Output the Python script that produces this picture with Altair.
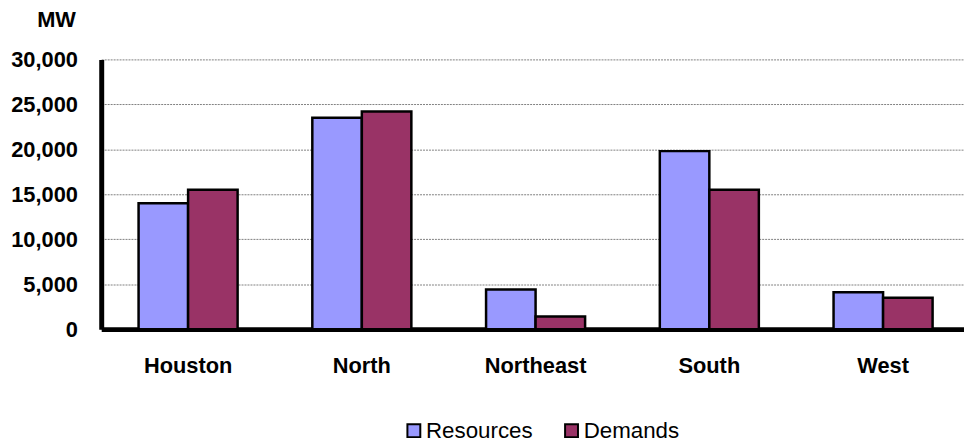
import altair as alt
import pandas as pd

regions = ["Houston", "North", "Northeast", "South", "West"]
series = ["Resources", "Demands"]
resources = [14000, 23500, 4400, 19800, 4100]
demands = [15500, 24200, 1400, 15500, 3500]
y_ticks = [0, 5000, 10000, 15000, 20000, 25000, 30000]
colors = ["#9999FF", "#993366"]

rows = []
for r, a, b in zip(regions, resources, demands):
    rows.append({"region": r, "series": "Resources", "value": a})
    rows.append({"region": r, "series": "Demands", "value": b})
df = pd.DataFrame(rows)

FONT = "Liberation Sans"

chart = alt.Chart(df).mark_bar(stroke="black", strokeWidth=2.5).encode(
    x=alt.X(
        "region:N",
        sort=regions,
        scale=alt.Scale(range=[0, 876], paddingInner=0.43, paddingOuter=0.215),
        axis=alt.Axis(
            title=None, labelAngle=0, ticks=False, domainWidth=5, domainColor="black",
            labelPadding=27, labelFont=FONT, labelFontSize=22, labelFontWeight="bold",
            labelColor="black", grid=False,
        ),
    ),
    xOffset=alt.XOffset("series:N", sort=series,
                        scale=alt.Scale(paddingInner=0, paddingOuter=0)),
    y=alt.Y(
        "value:Q",
        scale=alt.Scale(domain=[0, 30000], nice=False),
        axis=alt.Axis(
            values=y_ticks, format=",.0f", ticks=False, domainWidth=5, domainColor="black",
            labelPadding=24, labelFont=FONT, labelFontSize=22, labelFontWeight="bold",
            labelColor="black", grid=True, gridDash=[2, 1], gridColor="#808080",
            gridWidth=1, title="MW", titleAngle=0, titleAlign="right", titleX=-26,
            titleY=-33, titleBaseline="alphabetic", titleFont=FONT, titleFontSize=22,
            titleFontWeight="bold", titleColor="black",
        ),
    ),
    color=alt.Color(
        "series:N",
        scale=alt.Scale(domain=series, range=colors),
        legend=alt.Legend(
            title=None, orient="none", legendX=304, legendY=363, direction="horizontal",
            symbolType="square", symbolSize=169, symbolStrokeWidth=2,
            symbolStrokeColor="black", symbolOpacity=1, labelFont=FONT, labelFontSize=22.5,
            labelColor="black", columnPadding=27, labelOffset=1, padding=0,
        ),
    ),
).properties(
    width=866,
    height=272,
    autosize=alt.AutoSizeParams(type="none"),
    padding={"left": 94, "top": 50, "right": 4, "bottom": 116},
).configure_view(stroke=None)

chart.save("out.html", embed_options={"renderer": "svg", "actions": False})
